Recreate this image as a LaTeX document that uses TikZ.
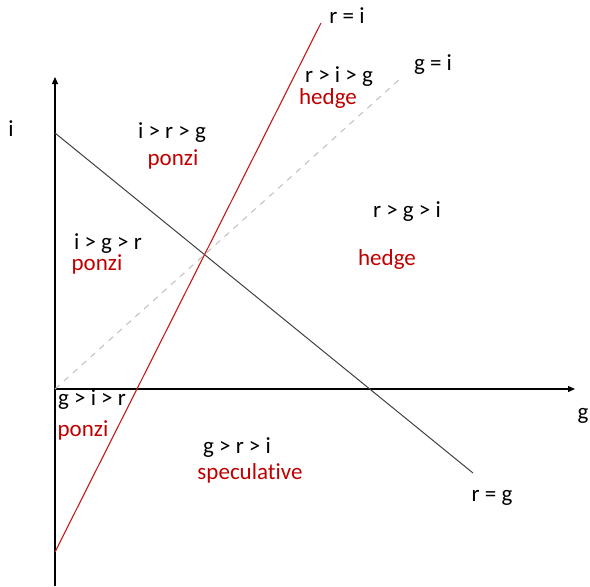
\documentclass[tikz,border=0pt]{standalone}
\usepackage{fontspec}
\setmainfont{Carlito}[Ligatures=NoCommon]
\usepackage{tikz}
\usetikzlibrary{arrows.meta,positioning}
\definecolor{RegimeRed}{HTML}{C00000}
\definecolor{EqGrey}{HTML}{BFBFBF}

\begin{document}
\begin{tikzpicture}[x=0.5pt,y=-0.5pt,
  axis/.style={-{Triangle[length=3.5pt,width=3pt]},line width=0.6pt},
  ineq/.style={font=\fontsize{11.5}{13}\selectfont,inner sep=0pt},
  regime/.style={ineq,text=RegimeRed},
  curvelab/.style={ineq}]
  \useasboundingbox (0,0) rectangle (590,586);
  % axes
  \coordinate (O) at (55,389);
  \coordinate (ibot) at (55,586);
  \coordinate (itop) at (55,77);
  \coordinate (gend) at (575,389);
  \draw[axis] (ibot) -- (itop);
  \draw[axis] (O) -- (gend);
  \node[curvelab] (ilab) at (11,129) {i};
  \node[curvelab] (glab) at (583,416) {g};
  % the three equality lines
  \coordinate (rg0) at (55,133); \coordinate (rg1) at (473,473);
  \coordinate (ri0) at (55,552); \coordinate (ri1) at (321,23);
  \coordinate (gi1) at (401,78);
  \draw[black!75,line width=0.5pt] (rg0) -- (rg1);
  \draw[RegimeRed!90!white,line width=0.55pt] (ri0) -- (ri1);
  \draw[EqGrey,dashed,line width=0.5pt] (O) -- (gi1);
  \node[curvelab] (rgl) at (492,498) {r = g};
  \node[curvelab] (ril) at (347,16) {r = i};
  \node[curvelab] (gil) at (433,65) {g = i};
  % regions
  \node[ineq] (irg) at (172,133) {i > r > g};
  \node[regime] (irgr) at (173,159) {ponzi};
  \node[ineq] (igr) at (108,244) {i > g > r};
  \node[regime] (igrr) at (97,264) {ponzi};
  \node[ineq] (rig) at (339,77) {r > i > g};
  \node[regime] (rigr) at (328,98) {hedge};
  \node[ineq] (rgi) at (407,212) {r > g > i};
  \node[regime] (rgir) at (387,259) {hedge};
  \node[ineq] (gir) at (92,400) {g > i > r};
  \node[regime] (girr) at (83,430) {ponzi};
  \node[ineq] (gri) at (237,448) {g > r > i};
  \node[regime] (grir) at (250,473) {speculative};
\end{tikzpicture}
\end{document}
